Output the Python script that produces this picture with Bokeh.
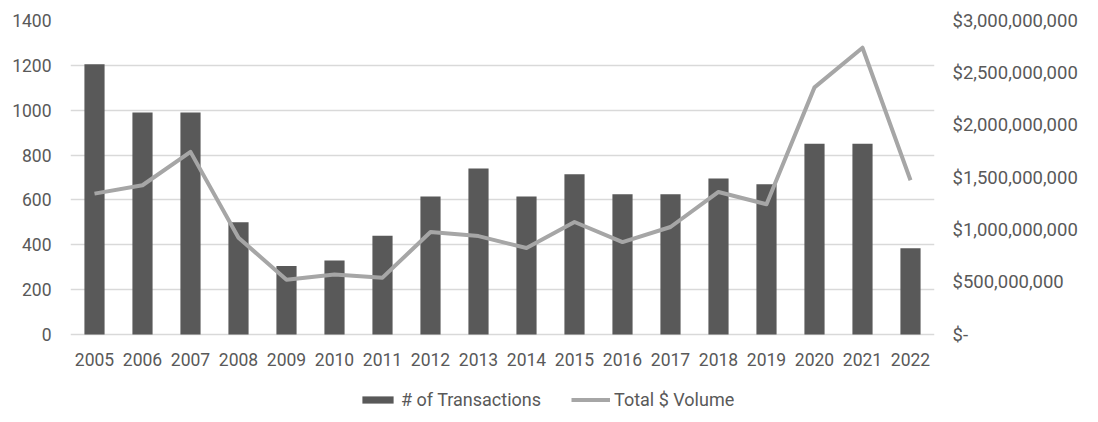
from bokeh.plotting import figure
from bokeh.models import (FactorRange, Range1d, LinearAxis, FixedTicker, Legend,
                          LegendItem, ColumnDataSource)
from bokeh.embed import file_html
from bokeh.resources import INLINE

years = [str(y) for y in range(2005, 2023)]
transactions = [1205, 990, 990, 500, 305, 330, 440, 615, 740, 615, 715, 625, 625,
                695, 670, 850, 850, 385]
volume = [1346e6, 1426e6, 1745e6, 925e6, 523e6, 574e6, 543e6, 979e6, 940e6, 826e6,
          1075e6, 883e6, 1027e6, 1362e6, 1244e6, 2361e6, 2740e6, 1474e6]
left_ticks = [0, 200, 400, 600, 800, 1000, 1200, 1400]
right_ticks = [0, 5e8, 1e9, 1.5e9, 2e9, 2.5e9, 3e9]
right_labels = ["$-", "$500,000,000", "$1,000,000,000", "$1,500,000,000",
                "$2,000,000,000", "$2,500,000,000", "$3,000,000,000"]

BAR = "#595959"
LINE = "#A6A6A6"
GRID = "#D9D9D9"
TEXT = "#595959"
FONT = "Roboto"
FS = "17.5px"

# layout (pixels): plot area from y=20 (top tick) to y=334 (zero), frame extends
# below zero to leave room for the legend inside the frame.
W, H = 1098, 422
TOP, BOTTOM_BORDER = 20, 2
ZERO_Y = 334
frame_bottom = H - BOTTOM_BORDER
span = ZERO_Y - TOP
below = frame_bottom - ZERO_Y
left_max, right_max = 1400, 3e9

src = ColumnDataSource(dict(year=years, n=transactions, vol=volume))

p = figure(width=W, height=H, x_range=FactorRange(*years, range_padding=0),
           y_range=Range1d(-left_max * below / span, left_max),
           output_backend="svg", toolbar_location=None,
           min_border_left=70, min_border_right=164, min_border_top=TOP,
           min_border_bottom=BOTTOM_BORDER)
p.outline_line_color = None
p.extra_y_ranges = {"vol": Range1d(-right_max * below / span, right_max)}

bars = p.vbar(x="year", top="n", width=0.42, source=src, color=BAR, line_color=None)
line = p.line(x="year", y="vol", source=src, y_range_name="vol", color=LINE,
              line_width=4, line_join="round")

p.xgrid.grid_line_color = None
p.ygrid.grid_line_color = GRID
p.ygrid.grid_line_width = 1.5
p.yaxis.ticker = FixedTicker(ticks=left_ticks)
p.xaxis.fixed_location = 0

ax_r = LinearAxis(y_range_name="vol", ticker=FixedTicker(ticks=right_ticks),
                  major_label_overrides={t: l for t, l in zip(right_ticks, right_labels)})
p.add_layout(ax_r, "right")

for ax in p.axis:
    ax.axis_line_color = None
    ax.major_tick_line_color = None
    ax.minor_tick_line_color = None
    ax.major_tick_out = 0
    ax.major_tick_in = 0
    ax.major_label_text_font = FONT
    ax.major_label_text_font_size = FS
    ax.major_label_text_color = TEXT

ax_r.major_label_text_font_size = "18.5px"
p.yaxis[0].major_label_standoff = 19
ax_r.major_label_standoff = 18
p.xaxis.major_label_standoff = 18

legend = Legend(items=[LegendItem(label="# of Transactions", renderers=[bars]),
                       LegendItem(label="Total $ Volume", renderers=[line])],
                orientation="horizontal", location=(288, 10),
                glyph_width=39, glyph_height=9, label_standoff=4, spacing=30,
                padding=0, margin=0, border_line_color=None,
                background_fill_alpha=0, label_text_font=FONT,
                label_text_font_size="18px", label_text_color=TEXT)
p.add_layout(legend, "center")

open("out.html", "w").write(file_html(p, INLINE))
